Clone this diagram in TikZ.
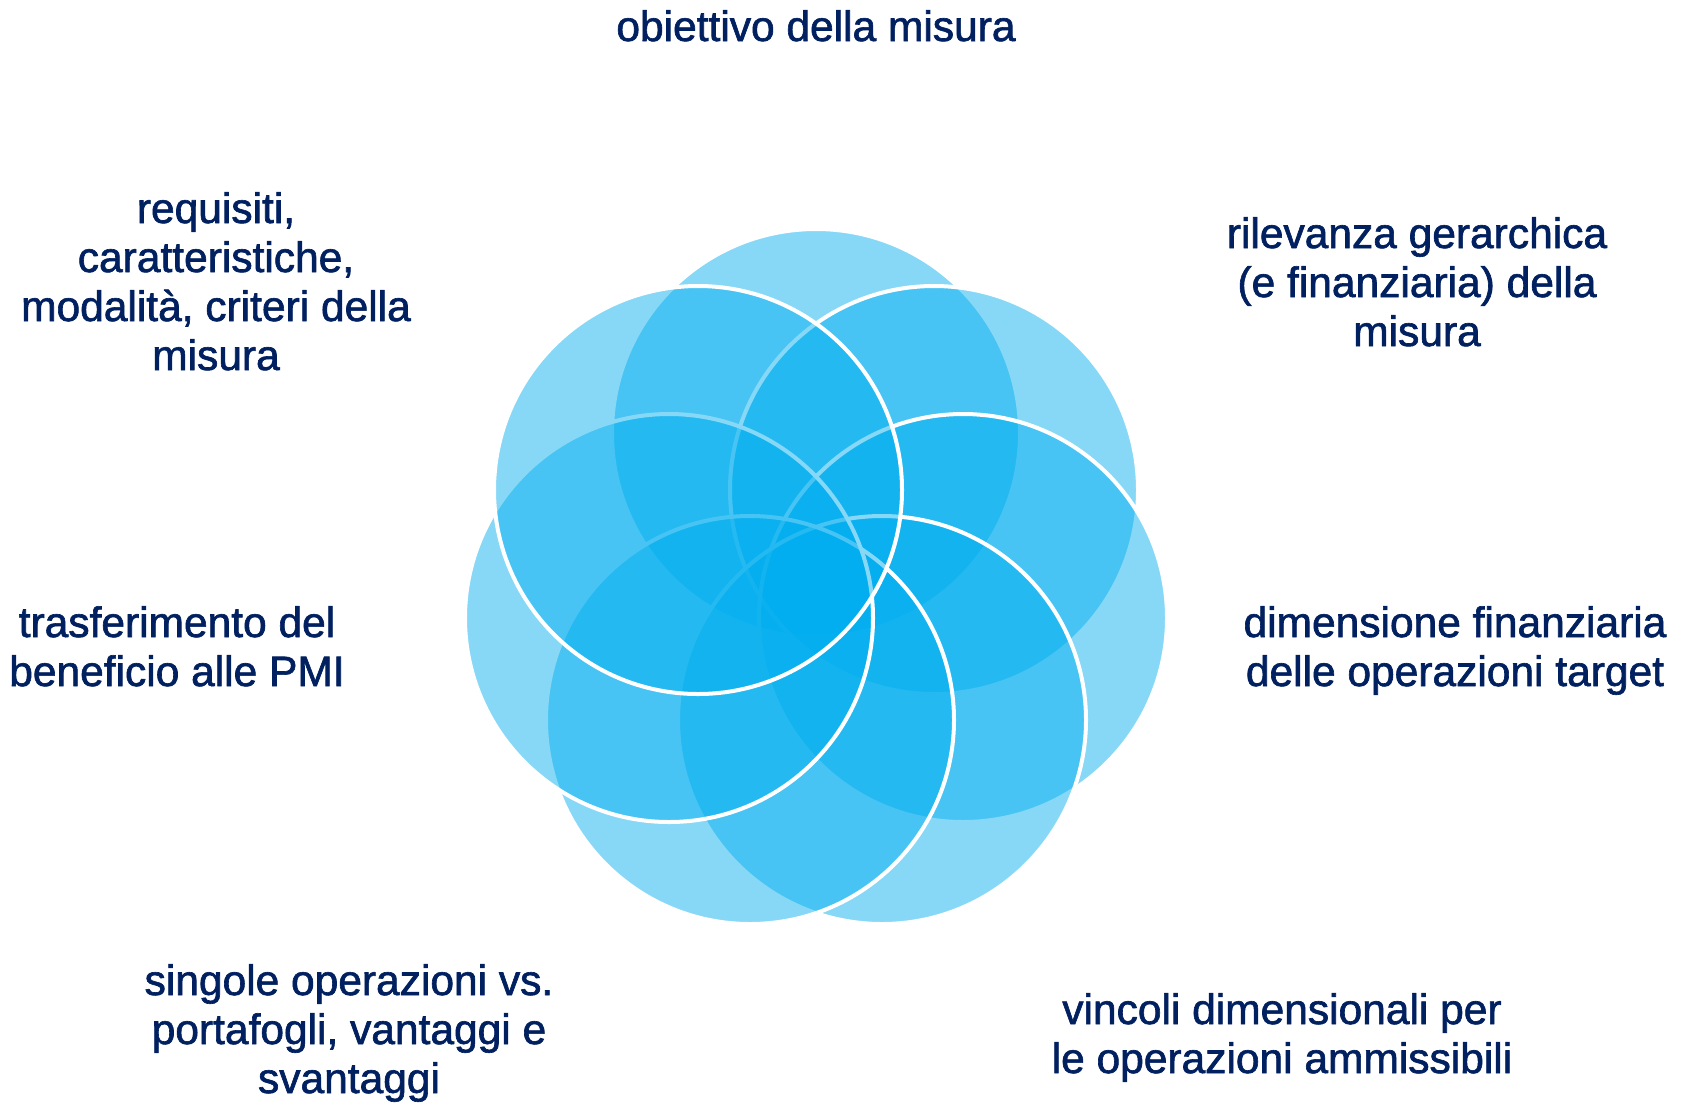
\documentclass[tikz,border=0pt]{standalone}
\usepackage{fontspec}
\setmainfont{Liberation Sans}[FakeBold=1.5]
\definecolor{navy}{HTML}{002060}
\definecolor{petal}{HTML}{00AEEF}
\begin{document}
\begin{tikzpicture}[x=0.5pt,y=-0.5pt,
  petalc/.style={circle,minimum size=204pt,inner sep=0pt,fill=petal,fill opacity=0.47,draw=white,line width=2pt},
  lbl/.style={align=center,anchor=base,inner sep=0pt,text=navy,font=\fontsize{21.25pt}{24.5pt}\selectfont}]
\useasboundingbox[fill=white] (0,0) rectangle (1684,1104);
% circles, drawn in cycle order (each later one on top)
\node[petalc] (c1) at (816,433) {};
\node[petalc] (c2) at (934,490) {};
\node[petalc] (c3) at (963,618) {};
\node[petalc] (c4) at (882,720) {};
\node[petalc] (c5) at (750,720) {};
\node[petalc] (c6) at (669,618) {};
\node[petalc] (c7) at (698,490) {};
% labels (anchored at the baseline of their last line)
\node[lbl] (t1) at (816,41) {obiettivo della misura};
\node[lbl] (t2) at (1417,346) {rilevanza gerarchica\\(e finanziaria) della\\misura};
\node[lbl] (t3) at (1455,686) {dimensione finanziaria\\delle operazioni target};
\node[lbl] (t4) at (1282,1073) {vincoli dimensionali per\\le operazioni ammissibili};
\node[lbl] (t5) at (349,1093) {singole operazioni vs.\\portafogli, vantaggi e\\svantaggi};
\node[lbl] (t6) at (177,686) {trasferimento del\\beneficio alle PMI};
\node[lbl] (t7) at (216,370) {requisiti,\\caratteristiche,\\modalità, criteri della\\misura};
\end{tikzpicture}
\end{document}
